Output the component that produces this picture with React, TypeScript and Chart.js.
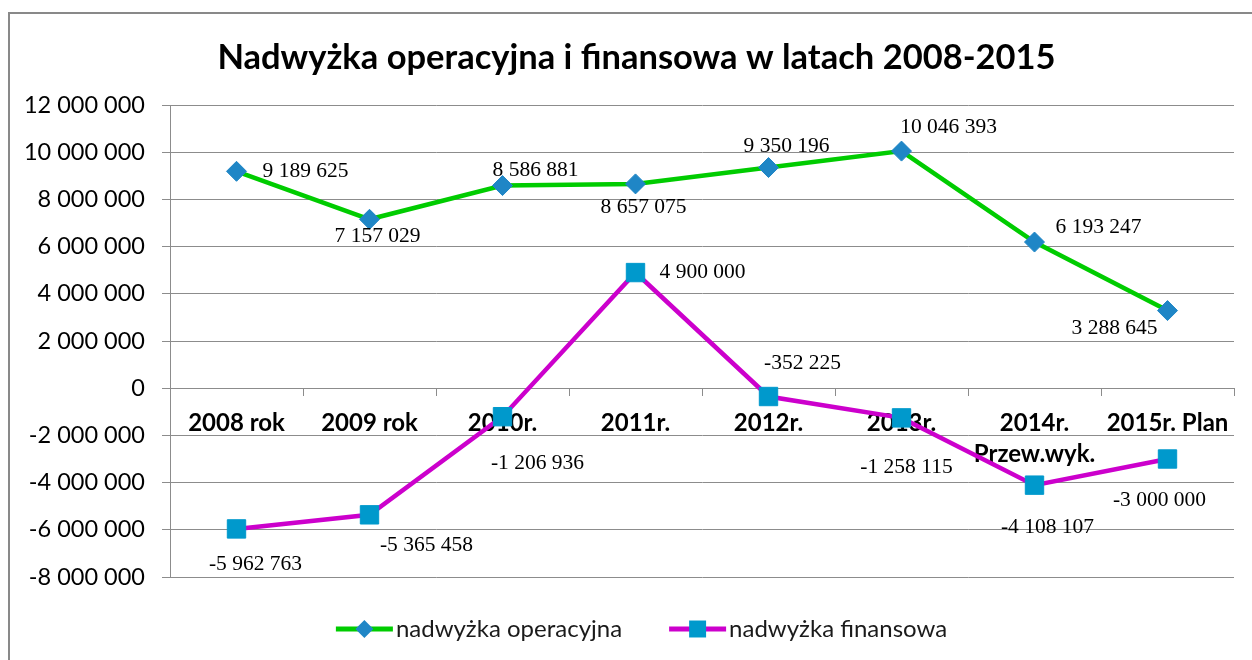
import React, { useEffect, useRef } from 'react';
import { Chart, registerables } from 'chart.js';

Chart.register(...registerables);

// ---- data ----
const chartTitle = 'Nadwyżka operacyjna i finansowa w latach 2008-2015';
const categories: string[] = [
  '2008 rok',
  '2009 rok',
  '2010r.',
  '2011r.',
  '2012r.',
  '2013r.',
  '2014r.\nPrzew.wyk.',
  '2015r. Plan',
];
const seriesNames: string[] = ['nadwyżka operacyjna', 'nadwyżka finansowa'];
const operacyjna: number[] = [9189625, 7157029, 8586881, 8657075, 9350196, 10046393, 6193247, 3288645];
const finansowa: number[] = [-5962763, -5365458, -1206936, 4900000, -352225, -1258115, -4108107, -3000000];
const yMin = -8000000;
const yMax = 12000000;
const yStep = 2000000;

// ---- label placement (offset of label centre from its point, px) ----
const operacyjnaLabelOffsets: [number, number][] = [
  [69, 0], [8, 17], [33, -15], [8, 23], [18, -21], [47, -24], [64, -15], [-53, 18],
];
const finansowaLabelOffsets: [number, number][] = [
  [19, 35], [57, 31], [35, 47], [67, 0], [34, -33], [5, 49], [13, 42], [-8, 41],
];

// ---- styles ----
const GREEN = '#00cc00';
const MAGENTA = '#cc00cc';
const DIAMOND = '#1f86c6';
const SQUARE = '#0099cc';
const GRID = '#8c8c8c';

const fmt = (v: number): string => {
  const s = Math.abs(Math.round(v)).toString().replace(/\B(?=(\d{3})+(?!\d))/g, ' ');
  return (v < 0 ? '-' : '') + s;
};

const framePlugin = {
  id: 'frame',
  beforeDraw(chart: any) {
    const ctx = chart.ctx;
    ctx.save();
    ctx.fillStyle = '#ffffff';
    ctx.fillRect(0, 0, chart.width, chart.height);
    ctx.fillStyle = '#898989';
    ctx.fillRect(9, 12, chart.width, 2);
    ctx.fillRect(8, 12, 2, chart.height);
    ctx.restore();
  },
};

const titlePlugin = {
  id: 'customTitle',
  afterDraw(chart: any) {
    const ctx = chart.ctx;
    ctx.save();
    ctx.font = 'bold 34.5px Lato';
    ctx.fillStyle = '#000';
    ctx.textAlign = 'center';
    ctx.textBaseline = 'middle';
    ctx.fillText(chartTitle, 636.5, 58);
    ctx.restore();
  },
};

const dataLabelPlugin = {
  id: 'dataLabels',
  afterDatasetsDraw(chart: any) {
    const ctx = chart.ctx;
    const offsets = [operacyjnaLabelOffsets, finansowaLabelOffsets];
    ctx.save();
    ctx.font = '21.5px "Liberation Serif"';
    ctx.fillStyle = '#000';
    ctx.textAlign = 'center';
    ctx.textBaseline = 'middle';
    chart.data.datasets.forEach((ds: any, i: number) => {
      const meta = chart.getDatasetMeta(i);
      meta.data.forEach((pt: any, j: number) => {
        const [dx, dy] = offsets[i][j];
        ctx.fillText(fmt(ds.data[j]), pt.x + dx, pt.y + dy);
      });
    });
    ctx.restore();
  },
};

const drawMarker = (ctx: CanvasRenderingContext2D, style: string, x: number, y: number, r: number, color: string) => {
  ctx.fillStyle = color;
  ctx.beginPath();
  if (style === 'rectRot') {
    ctx.moveTo(x - r, y);
    ctx.lineTo(x, y - r);
    ctx.lineTo(x + r, y);
    ctx.lineTo(x, y + r);
  } else {
    const s = r * Math.SQRT1_2;
    ctx.rect(x - s, y - s, 2 * s, 2 * s);
  }
  ctx.closePath();
  ctx.fill();
};

const legendPlugin = {
  id: 'customLegend',
  afterDraw(chart: any) {
    const ctx = chart.ctx;
    const y = 629;
    const lineLen = 57;
    const gapText = 3;
    const gapItems = 47;
    ctx.save();
    ctx.font = '24px Lato';
    const items = chart.data.datasets.map((ds: any) => ({
      label: ds.label,
      color: ds.borderColor,
      marker: ds.pointStyle,
      mColor: ds.backgroundColor,
      r: ds.pointRadius - 1,
      w: lineLen + gapText + ctx.measureText(ds.label).width,
    }));
    const total = items.reduce((a: number, it: any) => a + it.w, 0) + gapItems * (items.length - 1);
    let x = 641.5 - total / 2;
    items.forEach((it: any) => {
      ctx.strokeStyle = it.color;
      ctx.lineWidth = 5;
      ctx.beginPath();
      ctx.moveTo(x, y);
      ctx.lineTo(x + lineLen, y);
      ctx.stroke();
      drawMarker(ctx, it.marker, x + lineLen / 2, y, it.r, it.mColor);
      ctx.fillStyle = '#1a1a1a';
      ctx.textAlign = 'left';
      ctx.textBaseline = 'middle';
      ctx.fillText(it.label, x + lineLen + gapText, y);
      x += it.w + gapItems;
    });
    ctx.restore();
  },
};

export default function App() {
  const canvasRef = useRef<HTMLCanvasElement | null>(null);

  useEffect(() => {
    if (!canvasRef.current) return;
    const chart = new Chart(canvasRef.current, {
      type: 'line',
      data: {
        labels: categories.map((c) => c.split('\n')),
        datasets: [
          {
            label: seriesNames[0],
            data: operacyjna,
            borderColor: GREEN,
            borderWidth: 4.5,
            backgroundColor: DIAMOND,
            pointBackgroundColor: DIAMOND,
            pointBorderColor: DIAMOND,
            pointBorderWidth: 1,
            pointStyle: 'rectRot',
            pointRadius: 10,
            tension: 0,
          },
          {
            label: seriesNames[1],
            data: finansowa,
            borderColor: MAGENTA,
            borderWidth: 4.5,
            backgroundColor: SQUARE,
            pointBackgroundColor: SQUARE,
            pointBorderColor: SQUARE,
            pointBorderWidth: 1,
            pointStyle: 'rect',
            pointRadius: 13,
            tension: 0,
          },
        ],
      },
      options: {
        animation: false,
        responsive: false,
        events: [],
        layout: { padding: { top: 105, right: 18, bottom: 83, left: 0 } },
        plugins: {
          legend: { display: false },
          title: { display: false },
          tooltip: { enabled: false },
        },
        scales: {
          x: {
            type: 'category',
            position: { y: 0 },
            offset: true,
            z: 1,
            grid: {
              offset: true,
              drawOnChartArea: false,
              drawTicks: true,
              tickLength: 8,
              color: GRID,
            },
            border: { display: false },
            ticks: {
              font: { family: 'Lato', size: 24, weight: 'bold', lineHeight: 1.3 },
              color: '#000',
              padding: 11,
              maxRotation: 0,
              autoSkip: false,
            },
          },
          y: {
            type: 'linear',
            min: yMin,
            max: yMax,
            ticks: {
              stepSize: yStep,
              callback: (v: any) => fmt(Number(v)),
              font: { family: 'Lato', size: 23.5 },
              color: '#000',
              padding: 17,
            },
            grid: { color: GRID, tickLength: 8 },
            border: { color: GRID },
            afterFit: (s: any) => {
              s.width = 170;
            },
          },
        },
      } as any,
      plugins: [framePlugin, titlePlugin, dataLabelPlugin, legendPlugin],
    });
    return () => chart.destroy();
  }, []);

  return (
    <div style={{ position: 'fixed', left: 0, top: 0, width: 1252, height: 660, background: '#fff' }}>
      <canvas ref={canvasRef} width={1252} height={660} style={{ display: 'block' }} />
    </div>
  );
}
